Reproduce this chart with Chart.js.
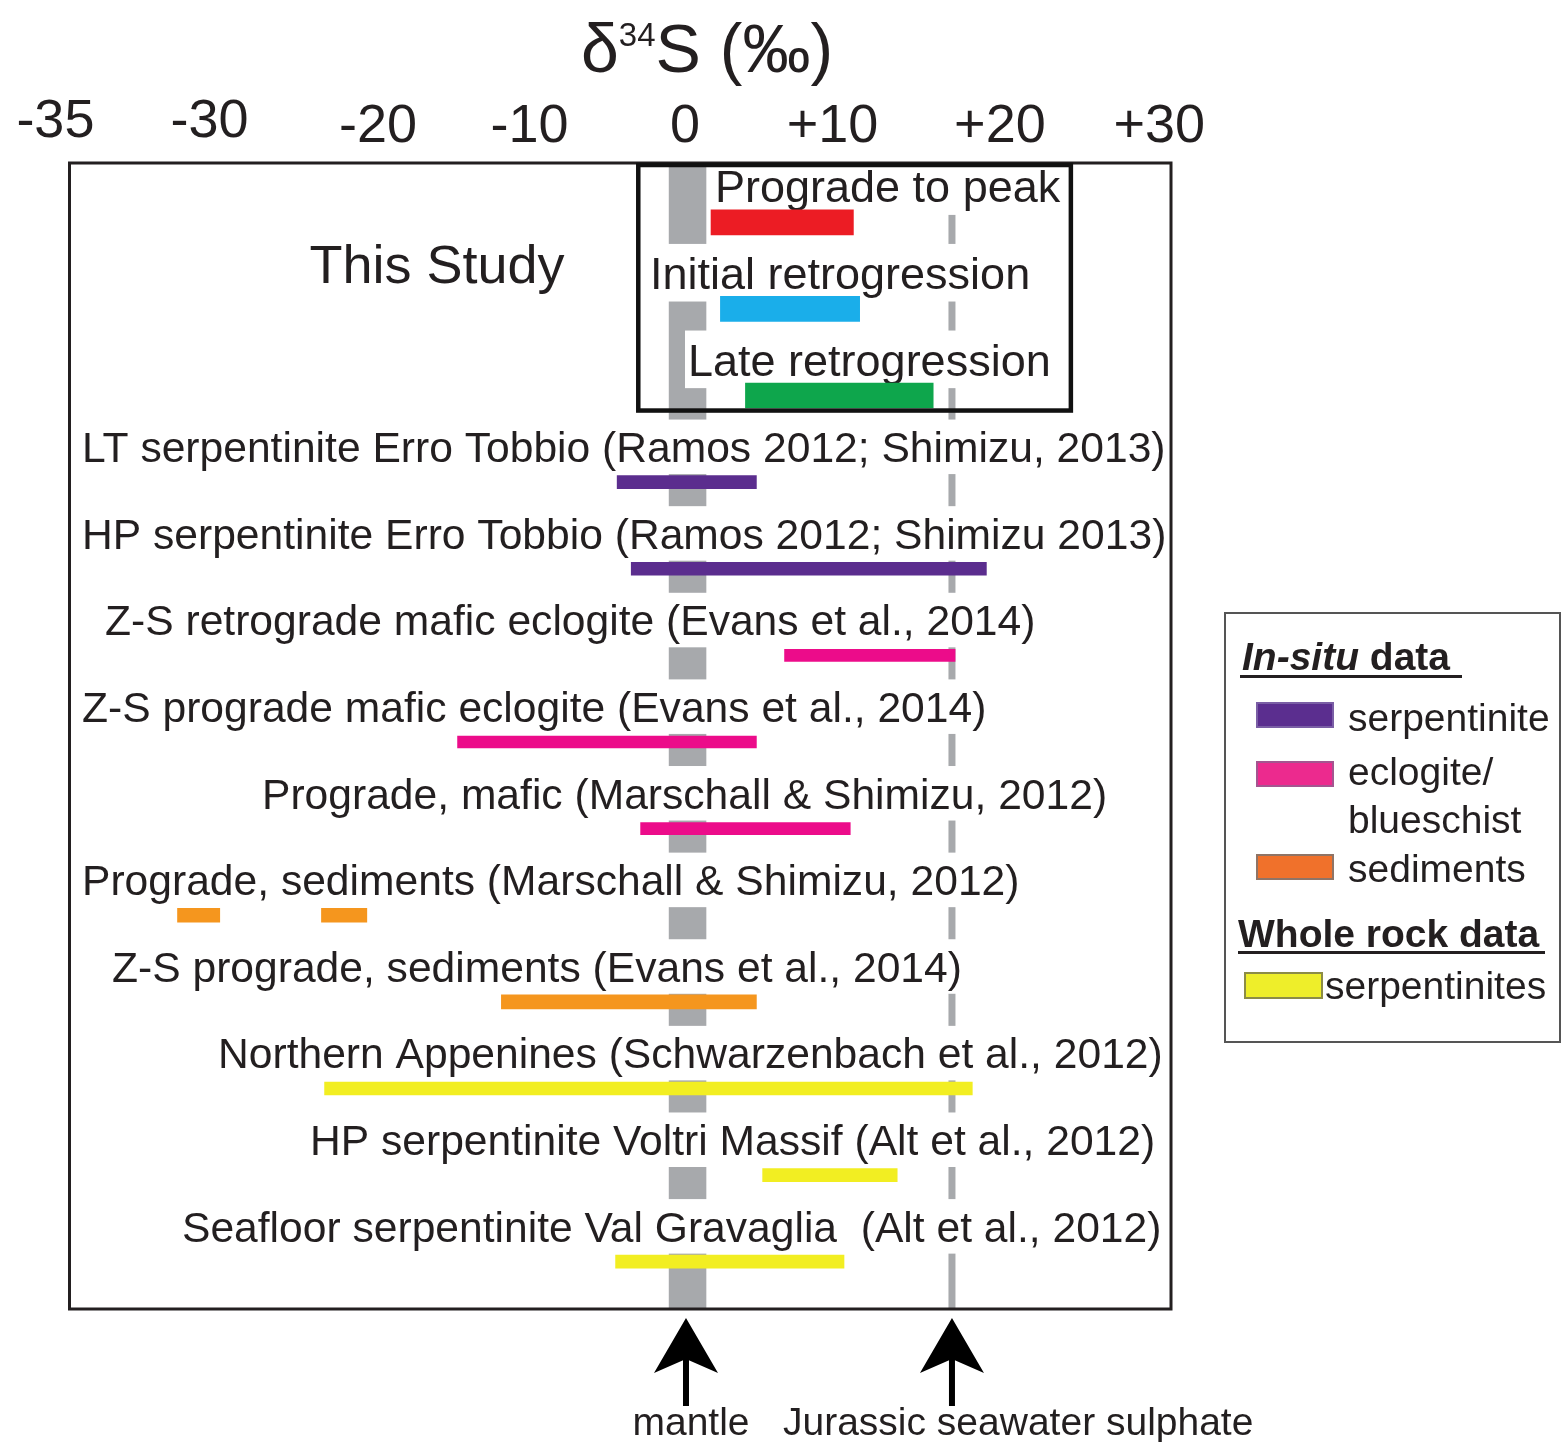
<!DOCTYPE html>
<html>
<head>
<meta charset="utf-8">
<title>δ34S ranges</title>
<script src="https://cdn.jsdelivr.net/npm/chart.js@4.4.0/dist/chart.umd.min.js"></script>
<style>
  html, body { margin: 0; padding: 0; background: #fff; }
  #wrap { position: relative; width: 1562px; height: 1442px; }
</style>
</head>
<body>
<div id="wrap"><canvas id="chart"></canvas></div>
<script>
// ---- data: δ34S ranges (‰), one row per study / sample set, top to bottom ----
const rowLabels = [
  'Prograde to peak',
  'Initial retrogression',
  'Late retrogression',
  'LT serpentinite Erro Tobbio (Ramos 2012; Shimizu, 2013)',
  'HP serpentinite Erro Tobbio (Ramos 2012; Shimizu 2013)',
  'Z-S retrograde mafic eclogite (Evans et al., 2014)',
  'Z-S prograde mafic eclogite (Evans et al., 2014)',
  'Prograde, mafic (Marschall & Shimizu, 2012)',
  'Prograde, sediments (Marschall & Shimizu, 2012)',
  'Z-S prograde, sediments (Evans et al., 2014)',
  'Northern Appenines (Schwarzenbach et al., 2012)',
  'HP serpentinite Voltri Massif (Alt et al., 2012)',
  'Seafloor serpentinite Val Gravaglia  (Alt et al., 2012)'
];
const rangeLow  = [1.6, 2.2, 3.8, -4.4, -3.5, 6.3, -14.6, -2.9, -32.5, -11.8, -23.1, 4.9, -4.5];
const rangeHigh = [10.7, 11.1, 15.8, 4.5, 19.2, 17.2, 4.5, 10.5, -29.8, 4.5, 18.3, 13.5, 10.1];
const rowGroup  = ['prograde', 'initial', 'late',
                   'serpentinite', 'serpentinite',
                   'eclogite', 'eclogite', 'eclogite',
                   'sediments', 'sediments',
                   'wholeRock', 'wholeRock', 'wholeRock'];
// second sediment cluster in the Marschall & Shimizu row
const extraRow  = [8];
const extraLow  = [-23.3];
const extraHigh = [-20.4];

const xTickValues = [-35, -30, -20, -10, 0, 10, 20, 30];
const mantleRange = [-1.1, 1.3];
const seawaterSulphate = 17;

const legendInSitu = ['serpentinite', 'eclogite/\nblueschist', 'sediments'];
const legendWholeRock = ['serpentinites'];

// ---- styling / layout ----
const FONT = '"Liberation Sans", Arial, Helvetica, sans-serif';
const INK = '#231f20';
const GREY = '#a7a9ac';
const groupStyle = {
  prograde:     { color: '#ec1c24', thickness: 25 },
  initial:      { color: '#1aaeea', thickness: 25 },
  late:         { color: '#0ea64c', thickness: 25 },
  serpentinite: { color: '#5b2d8e', thickness: 13 },
  eclogite:     { color: '#ec0c8a', thickness: 12 },
  sediments:    { color: '#f5961e', thickness: 14 },
  wholeRock:    { color: '#f2ee22', thickness: 13 }
};
const legendSwatch = [
  { fill: '#5b2e8f', stroke: '#7a5ea5' },
  { fill: '#ec2a8e', stroke: '#a45590' },
  { fill: '#f0712b', stroke: '#8f7466' }
];
const wholeRockSwatch = { fill: '#eeee2a', stroke: '#8c8c46' };

const labelIndent = [647, 582, 620, 14, 14, 37, 14, 194, 14, 44, 150, 242, 114];
const tickNudge   = [-83, -7, 5, 0, -1, -10, 1, 4];
const tickBase    = [137, 137, 142, 142, 142, 142, 142, 142];
const FRAME_TOP = 163, FRAME_BOTTOM = 1309;

const groupOrder = ['prograde', 'initial', 'late', 'serpentinite', 'eclogite', 'sediments', 'wholeRock'];
const datasets = groupOrder.map(g => ({
  label: g,
  data: rowLabels.map((_, i) => rowGroup[i] === g ? [rangeLow[i], rangeHigh[i]] : null),
  backgroundColor: groupStyle[g].color,
  barThickness: groupStyle[g].thickness
}));
datasets.push({
  label: 'sediments (2)',
  data: rowLabels.map((_, i) => {
    const k = extraRow.indexOf(i);
    return k >= 0 ? [extraLow[k], extraHigh[k]] : null;
  }),
  backgroundColor: groupStyle.sediments.color,
  barThickness: groupStyle.sediments.thickness
});

// reference lines + row captions, painted underneath the bars
const backdrop = {
  id: 'backdrop',
  beforeDatasetsDraw(chart) {
    const { ctx, chartArea: ca, scales: { x, y } } = chart;
    ctx.save();
    ctx.fillStyle = GREY;
    const m0 = x.getPixelForValue(mantleRange[0]);
    const m1 = x.getPixelForValue(mantleRange[1]);
    ctx.fillRect(m0, FRAME_TOP, m1 - m0, FRAME_BOTTOM - FRAME_TOP);
    const sx = x.getPixelForValue(seawaterSulphate);
    ctx.fillRect(sx - 3.5, FRAME_TOP, 7, FRAME_BOTTOM - FRAME_TOP);

    ctx.textBaseline = 'alphabetic';
    ctx.textAlign = 'left';
    rowLabels.forEach((txt, i) => {
      const fs = i < 3 ? 45 : 42.6;
      ctx.font = `${fs}px ${FONT}`;
      const w = ctx.measureText(txt).width;
      const lx = ca.left + labelIndent[i];
      const by = y.getPixelForValue(i) - 20;
      ctx.fillStyle = '#fff';
      ctx.fillRect(lx - 3, by - fs * 1.0, w + 6, fs * 1.28);
      ctx.fillStyle = INK;
      ctx.fillText(txt, lx, by);
    });

    ctx.font = `54px ${FONT}`;
    ctx.textAlign = 'center';
    ctx.fillStyle = INK;
    ctx.fillText('This Study', ca.left + 369, y.getPixelForValue(1) - 26);
    ctx.restore();
  },
  afterDraw(chart) {
    const { ctx, chartArea: ca, scales: { x, y } } = chart;
    ctx.save();
    // plot frame
    ctx.strokeStyle = INK;
    ctx.lineWidth = 3;
    ctx.strokeRect(ca.left + 1.5, FRAME_TOP, ca.right - ca.left - 1.5, FRAME_BOTTOM - FRAME_TOP);
    // "this study" box
    ctx.strokeStyle = '#111';
    ctx.lineWidth = 4.5;
    const bx0 = x.getPixelForValue(-3.05), bx1 = x.getPixelForValue(24.6);
    const by0 = FRAME_TOP + 2, by1 = y.getPixelForValue(2) + 15;
    ctx.strokeRect(bx0, by0, bx1 - bx0, by1 - by0);

    // top axis tick labels
    ctx.fillStyle = INK;
    ctx.font = `54px ${FONT}`;
    ctx.textAlign = 'center';
    ctx.textBaseline = 'alphabetic';
    xTickValues.forEach((v, i) => {
      const txt = v > 0 ? '+' + v : String(v);
      ctx.fillText(txt, x.getPixelForValue(v) + tickNudge[i], tickBase[i]);
    });

    // axis title δ34S (‰)
    const big = `68px ${FONT}`, sup = `33px ${FONT}`;
    ctx.textAlign = 'left';
    ctx.font = big; const wD = ctx.measureText('δ').width;
    ctx.font = sup; const w34 = ctx.measureText('34').width;
    ctx.font = big; const wRest = ctx.measureText('S (‰)').width;
    let tx = 707 - (wD + w34 + wRest) / 2;
    ctx.font = big; ctx.fillText('δ', tx, 72); tx += wD;
    ctx.font = sup; ctx.fillText('34', tx, 46); tx += w34;
    ctx.font = big; ctx.fillText('S (‰)', tx, 72);

    // arrows under the frame
    ctx.fillStyle = '#000';
    [0, seawaterSulphate].forEach(v => {
      const ax = x.getPixelForValue(v);
      ctx.beginPath();
      ctx.moveTo(ax, FRAME_BOTTOM + 9);
      ctx.lineTo(ax + 32, FRAME_BOTTOM + 64);
      ctx.lineTo(ax, FRAME_BOTTOM + 50);
      ctx.lineTo(ax - 32, FRAME_BOTTOM + 64);
      ctx.closePath();
      ctx.fill();
      ctx.fillRect(ax - 3, FRAME_BOTTOM + 45, 6, 52);
    });
    ctx.fillStyle = INK;
    ctx.font = `39px ${FONT}`;
    ctx.textAlign = 'center';
    ctx.fillText('mantle', x.getPixelForValue(0) + 5, 1435);
    ctx.textAlign = 'left';
    ctx.fillText('Jurassic seawater sulphate', 783, 1435);

    // legend
    const L = { x: 1225, y: 613, w: 335, h: 429 };
    ctx.strokeStyle = '#555';
    ctx.lineWidth = 2;
    ctx.strokeRect(L.x, L.y, L.w, L.h);
    ctx.fillStyle = INK;
    ctx.font = `italic bold 39px ${FONT}`;
    ctx.fillText('In-situ', 1242, 670);
    const wIn = ctx.measureText('In-situ').width;
    ctx.font = `bold 39px ${FONT}`;
    ctx.fillText(' data', 1242 + wIn, 670);
    ctx.fillRect(1240, 675, 222, 3);

    const swY = [703, 762, 855];
    const txY = [731, 785, 882];
    ctx.font = `39px ${FONT}`;
    legendInSitu.forEach((t, i) => {
      ctx.fillStyle = legendSwatch[i].fill;
      ctx.fillRect(1257, swY[i], 76, 24);
      ctx.strokeStyle = legendSwatch[i].stroke;
      ctx.lineWidth = 2;
      ctx.strokeRect(1257, swY[i], 76, 24);
      ctx.fillStyle = INK;
      t.split('\n').forEach((line, k) => ctx.fillText(line, 1348, txY[i] + k * 48));
    });

    ctx.font = `bold 39px ${FONT}`;
    ctx.fillText('Whole rock data', 1238, 947);
    ctx.fillRect(1238, 951, 307, 3);

    ctx.fillStyle = wholeRockSwatch.fill;
    ctx.fillRect(1245, 973, 77, 25);
    ctx.strokeStyle = wholeRockSwatch.stroke;
    ctx.lineWidth = 2;
    ctx.strokeRect(1245, 973, 77, 25);
    ctx.fillStyle = INK;
    ctx.font = `39px ${FONT}`;
    ctx.fillText(legendWholeRock[0], 1325, 999);
    ctx.restore();
  }
};

new Chart(document.getElementById('chart'), {
  type: 'bar',
  data: { labels: rowLabels, datasets },
  options: {
    indexAxis: 'y',
    responsive: true,
    maintainAspectRatio: false,
    animation: false,
    datasets: { bar: { grouped: false, borderWidth: 0, borderSkipped: false } },
    layout: { padding: { left: 68, right: 391, top: 179, bottom: 137 } },
    plugins: { legend: { display: false }, tooltip: { enabled: false } },
    scales: {
      x: { type: 'linear', position: 'top', min: -39.5, max: 31, display: false },
      y: { type: 'category', display: false }
    }
  },
  plugins: [backdrop]
});
</script>
</body>
</html>
